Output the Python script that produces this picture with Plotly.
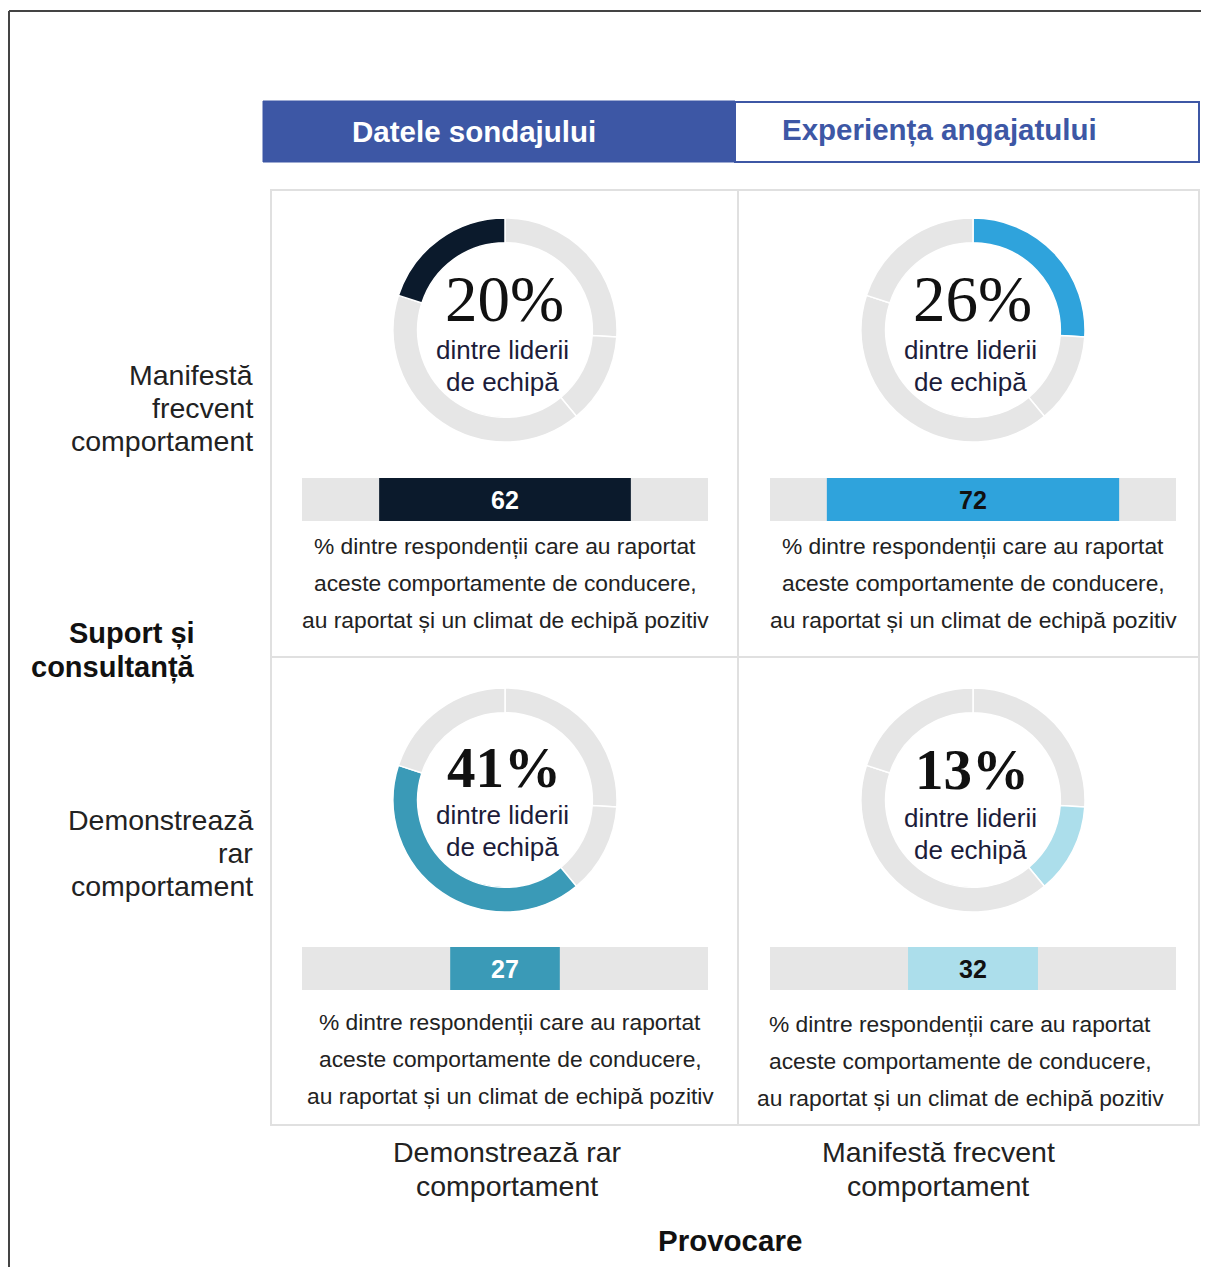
import plotly.graph_objects as go

# page has an 8px body margin, so the figure is offset by 8px
OFF = 8
W, H = 1209 - OFF, 1267 - OFF

# ---------------- data ----------------
header_labels = ["Datele sondajului", "Experiența angajatului"]
row_labels = [["Manifestă", "frecvent", "comportament"], ["Demonstrează", "rar", "comportament"]]
col_labels = [["Demonstrează rar", "comportament"], ["Manifestă frecvent", "comportament"]]
y_axis_title = ["Suport și", "consultanță"]
x_axis_title = "Provocare"

# donut shares (clockwise from 12 o'clock): order of the four groups
donut_values = [26, 13, 41, 20]
# panels: top-left, top-right, bottom-left, bottom-right
panel_pct = [20, 26, 41, 13]          # % of team leaders
panel_climate = [62, 72, 27, 32]      # % reporting positive climate
center_lines = ["dintre liderii", "de echipă"]
caption_lines = ["% dintre respondenții care au raportat",
                 "aceste comportamente de conducere,",
                 "au raportat și un climat de echipă pozitiv"]

# ---------------- styles ----------------
panel_colors = ["#0b1a2c", "#2fa3dc", "#3a9ab7", "#acdeeb"]
bar_text_colors = ["white", "#111111", "white", "#111111"]
pct_bold = [False, False, True, True]
pct_size = [65, 65, 57, 57]
GREY = "#e6e6e6"
HEAD_BLUE = "#3d57a5"

def X(px):
    return (px - OFF) / W

def Y(py):
    return 1 - (py - OFF) / H

donut_centers = [(505, 330), (973, 330), (505, 800), (973, 800)]
R = 112
bar_boxes = [(302, 708, 478, 521), (770, 1176, 478, 521), (302, 708, 947, 990), (770, 1176, 947, 990)]
pct_y = [299, 299, 767, 769]
line_y = [(350, 382), (350, 382), (815, 847), (818, 850)]
text_cx = [504, 972, 504, 972]
cap_pos = [(505, [546, 583, 620]), (973, [546, 583, 620]), (510, [1022, 1059, 1096]), (960, [1024, 1061, 1098])]

fig = go.Figure()
annotations = []
shapes = []

def txt(x, y, s, size, color="#222222", bold=False, family="Liberation Sans, Arial, sans-serif", anchor="center"):
    annotations.append(dict(
        x=X(x), y=Y(y), xref="paper", yref="paper", text=f"<b>{s}</b>" if bold else s,
        showarrow=False, xanchor=anchor, yanchor="middle",
        font=dict(size=size, color=color, family=family)))

# donuts: one pie each, highlighting the panel's share
for i, (cx, cy) in enumerate(donut_centers):
    idx = donut_values.index(panel_pct[i])
    cols = [GREY] * len(donut_values)
    cols[idx] = panel_colors[i]
    fig.add_trace(go.Pie(
        values=donut_values, sort=False, direction="clockwise", rotation=0,
        hole=0.78, textinfo="none", hoverinfo="skip", showlegend=False,
        marker=dict(colors=cols, line=dict(color="white", width=1.5)),
        domain=dict(x=[X(cx - R), X(cx + R)], y=[Y(cy + R), Y(cy - R)])))
    txt(text_cx[i], pct_y[i], f"{panel_pct[i]}%", pct_size[i], color="#111111", bold=pct_bold[i],
        family="Liberation Serif, Times New Roman, serif")
    for s, yy in zip(center_lines, line_y[i]):
        txt(text_cx[i] - 2, yy, s, 26, color="#1c1c3a")

# centred bars
layout_axes = {}
for i, (x0, x1, y0, y1) in enumerate(bar_boxes):
    n = "" if i == 0 else str(i + 1)
    xa, ya = "x" + n, "y" + n
    layout_axes["xaxis" + n] = dict(domain=[X(x0), X(x1)], range=[0, 100], visible=False,
                                    anchor=ya, fixedrange=True)
    layout_axes["yaxis" + n] = dict(domain=[Y(y1), Y(y0)], range=[-0.5, 0.5], visible=False,
                                    anchor=xa, fixedrange=True)
    v = panel_climate[i]
    fig.add_trace(go.Bar(x=[100], y=[0], base=[0], orientation="h", width=1,
                         marker=dict(color=GREY, line=dict(width=0)),
                         hoverinfo="skip", showlegend=False, xaxis=xa, yaxis=ya))
    fig.add_trace(go.Bar(x=[v], y=[0], base=[(100 - v) / 2], orientation="h", width=1,
                         marker=dict(color=panel_colors[i], line=dict(width=0)),
                         text=[f"<b>{v}</b>"], textposition="inside", insidetextanchor="middle",
                         textangle=0, constraintext="none",
                         textfont=dict(size=25, color=bar_text_colors[i],
                                       family="Liberation Sans, Arial, sans-serif"),
                         hoverinfo="skip", showlegend=False, xaxis=xa, yaxis=ya))

# captions
for cx, ys in cap_pos:
    for s, yy in zip(caption_lines, ys):
        txt(cx, yy, s, 22.8)

# header boxes
shapes.append(dict(type="rect", xref="paper", yref="paper", x0=X(263), x1=X(735), y0=Y(162), y1=Y(101),
                   fillcolor=HEAD_BLUE, line=dict(color=HEAD_BLUE, width=1)))
shapes.append(dict(type="rect", xref="paper", yref="paper", x0=X(735), x1=X(1199), y0=Y(162), y1=Y(102),
                   fillcolor="white", line=dict(color=HEAD_BLUE, width=2)))
txt(474, 131, header_labels[0], 29.5, color="white", bold=True)
txt(939, 130, header_labels[1], 29.5, color=HEAD_BLUE, bold=True)

# grid
GRID = "#e0e0e0"
shapes.append(dict(type="rect", xref="paper", yref="paper", x0=X(271), x1=X(1199), y0=Y(1125), y1=Y(190),
                   line=dict(color=GRID, width=2), layer="below"))
shapes.append(dict(type="line", xref="paper", yref="paper", x0=X(738), x1=X(738), y0=Y(1125), y1=Y(190),
                   line=dict(color=GRID, width=2), layer="below"))
shapes.append(dict(type="line", xref="paper", yref="paper", x0=X(271), x1=X(1199), y0=Y(657), y1=Y(657),
                   line=dict(color=GRID, width=2), layer="below"))

# outer frame (top and left edges)
shapes.append(dict(type="line", xref="paper", yref="paper", x0=X(9), x1=X(1215), y0=Y(11), y1=Y(11),
                   line=dict(color="#444444", width=2)))
shapes.append(dict(type="line", xref="paper", yref="paper", x0=X(9), x1=X(9), y0=Y(11), y1=Y(1275),
                   line=dict(color="#444444", width=2)))

# row labels
for lines, ys in zip(row_labels, [[375, 408, 441], [820, 853, 886]]):
    for s, yy in zip(lines, ys):
        txt(255, yy, s, 28.5, anchor="right")
# y title
for s, yy in zip(y_axis_title, [633, 668]):
    txt(197, yy, s, 29, color="#111111", bold=True, anchor="right")
# column labels
for lines, cx in zip(col_labels, [507, 938]):
    for s, yy in zip(lines, [1152, 1186]):
        txt(cx, yy, s, 28.5)
txt(730, 1240, x_axis_title, 29.5, color="#111111", bold=True)

fig.update_layout(
    width=W, height=H, margin=dict(l=0, r=0, t=0, b=0),
    paper_bgcolor="white", plot_bgcolor="white",
    barmode="overlay", showlegend=False,
    annotations=annotations, shapes=shapes, **layout_axes)

fig.write_html("out.html")
